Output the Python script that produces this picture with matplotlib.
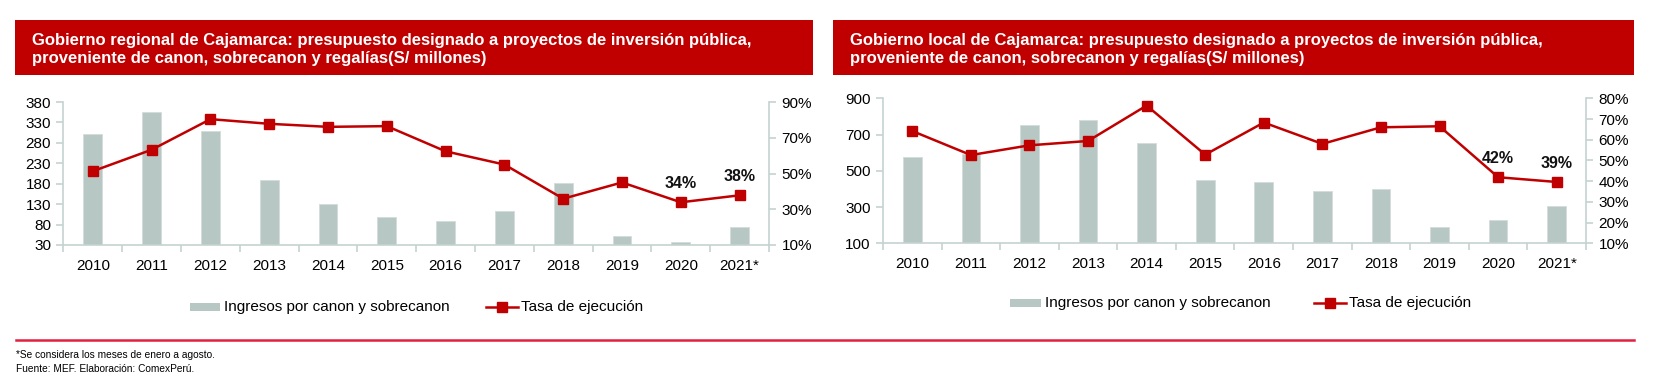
import matplotlib
matplotlib.use("Agg")
import matplotlib.pyplot as plt
from matplotlib.patches import Rectangle
from matplotlib.lines import Line2D
import numpy as np

plt.rcParams['font.family'] = ['Liberation Sans', 'DejaVu Sans']

years = ["2010", "2011", "2012", "2013", "2014", "2015", "2016", "2017", "2018", "2019", "2020", "2021*"]

reg_ingresos = [301, 355, 309, 188, 130, 98, 89, 113, 182, 53, 38, 75]
reg_tasa = [51.3, 63.3, 80.4, 77.8, 76.1, 76.5, 62.4, 55.0, 35.9, 45.0, 33.9, 37.8]
reg_labels = {10: "34%", 11: "38%"}

loc_ingresos = [578, 595, 751, 782, 654, 449, 437, 391, 400, 192, 231, 306]
loc_tasa = [64.2, 52.6, 57.3, 59.4, 76.5, 52.8, 68.3, 58.0, 66.0, 66.5, 41.9, 39.6]
loc_labels = {10: "42%", 11: "39%"}

title_reg = "Gobierno regional de Cajamarca: presupuesto designado a proyectos de inversión pública,\nproveniente de canon, sobrecanon y regalías(S/ millones)"
title_loc = "Gobierno local de Cajamarca: presupuesto designado a proyectos de inversión pública,\nproveniente de canon, sobrecanon y regalías(S/ millones)"

legend_bar = "Ingresos por canon y sobrecanon"
legend_line = "Tasa de ejecución"
note1 = "*Se considera los meses de enero a agosto."
note2 = "Fuente: MEF. Elaboración: ComexPerú."

W, H = 1656, 384
fig = plt.figure(figsize=(W / 100, H / 100), dpi=100)

RED = "#C00000"
BAR = "#B7C7C4"
SPINE = "#C5D3D0"
FS = 11


def fx(x):
    return x / W


def fy(y):
    return 1 - y / H


def panel(ax_rect, ingresos, tasa, labels, ylim, yticks, pylim, pticks, title, hdr_x0, hdr_x1, leg_y, leg_x):
    # header
    fig.patches.append(Rectangle((fx(hdr_x0), fy(75)), fx(hdr_x1 - hdr_x0), (75 - 20) / H,
                                 transform=fig.transFigure, facecolor=RED, edgecolor='none', zorder=0))
    fig.text(fx(hdr_x0 + 17), fy(49), title, color='white', fontsize=12, fontweight='bold',
             va='center', ha='left', linespacing=1.25)

    ax = fig.add_axes(ax_rect)
    x = np.arange(len(years))
    ax.bar(x, [v - ylim[0] for v in ingresos], bottom=ylim[0], width=0.32, color=BAR,
           edgecolor='#D3DDDB', linewidth=0.6, zorder=2)
    ax.set_xlim(-0.5, len(years) - 0.5)
    ax.set_ylim(*ylim)
    ax.set_yticks(yticks)
    ax.set_xticks(x)
    ax.set_xticklabels(years)
    ax.set_xticks(np.arange(-0.5, len(years), 1.0), minor=True)
    ax.tick_params(axis='x', which='major', length=0, pad=10, labelsize=FS)
    ax.tick_params(axis='x', which='minor', length=5, color=SPINE, width=1.2, direction='out')
    ax.tick_params(axis='y', length=5, color=SPINE, width=1.2, direction='out', labelsize=FS, pad=4)
    for s in ['top', 'right']:
        ax.spines[s].set_visible(False)
    for s in ['left', 'bottom']:
        ax.spines[s].set_color(SPINE)
        ax.spines[s].set_linewidth(1.2)

    ax2 = ax.twinx()
    ax2.plot(x, tasa, color=RED, linewidth=1.8, marker='s', markersize=7, markerfacecolor=RED,
             markeredgecolor=RED, zorder=3)
    ax2.set_ylim(*pylim)
    ax2.set_yticks(pticks)
    ax2.set_yticklabels([f"{t}%" for t in pticks])
    ax2.tick_params(axis='y', length=5, color=SPINE, width=1.2, direction='out', labelsize=FS, pad=4)
    for s in ['top', 'left', 'bottom']:
        ax2.spines[s].set_visible(False)
    ax2.spines['right'].set_color(SPINE)
    ax2.spines['right'].set_linewidth(1.2)
    for i, lab in labels.items():
        ax2.annotate(lab, (x[i], tasa[i]), xytext=(0, 13.5), textcoords='offset points',
                     ha='center', va='center', fontsize=11.5, fontweight='bold', color='#111111')

    # legend
    lx, ly = leg_x
    fig.patches.append(Rectangle((fx(lx[0]), fy(leg_y + 4)), fx(lx[1] - lx[0]), 8 / H,
                                 transform=fig.transFigure, facecolor=BAR, edgecolor='none'))
    fig.text(fx(lx[1] + 4), fy(leg_y), legend_bar, fontsize=FS, va='center', ha='left')
    fig.lines.append(Line2D([fx(ly[0]), fx(ly[1])], [fy(leg_y), fy(leg_y)], transform=fig.transFigure,
                            color=RED, linewidth=1.8, marker=None))
    fig.lines.append(Line2D([fx((ly[0] + ly[1]) / 2)], [fy(leg_y)], transform=fig.transFigure,
                            color=RED, marker='s', markersize=7, linestyle='none'))
    fig.text(fx(ly[1] + 3), fy(leg_y), legend_line, fontsize=FS, va='center', ha='left')


panel([fx(63.5), fy(245), fx(769 - 63.5), (245 - 102) / H],
      reg_ingresos, reg_tasa, reg_labels,
      (30, 380), list(range(30, 381, 50)), (10, 90), list(range(10, 91, 20)),
      title_reg, 15, 813, 307, ((190, 220), (486, 518)))

panel([fx(883), fy(243.3), fx(1586 - 883), (243.3 - 98.3) / H],
      loc_ingresos, loc_tasa, loc_labels,
      (100, 900), list(range(100, 901, 200)), (10, 80), list(range(10, 81, 10)),
      title_loc, 833, 1634, 303, ((1010, 1041), (1314, 1346)))

# separator
fig.lines.append(Line2D([fx(16), fx(1634)], [fy(340), fy(340)], transform=fig.transFigure,
                        color="#E3203F", linewidth=1.8))
fig.text(fx(16), fy(355), note1, fontsize=7.3, va='center', ha='left')
fig.text(fx(16), fy(369), note2, fontsize=7.3, va='center', ha='left')

fig.savefig("out.png", dpi=100)
